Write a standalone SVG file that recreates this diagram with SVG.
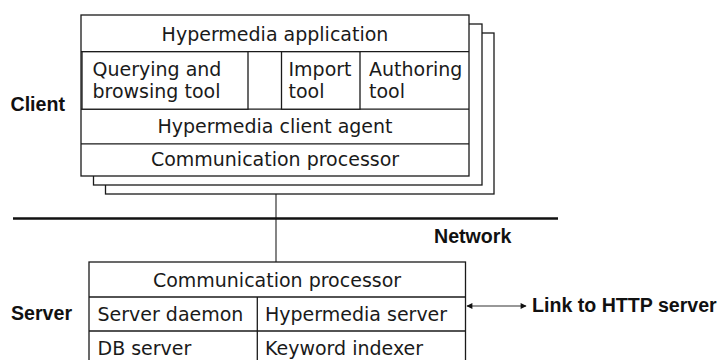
<svg xmlns="http://www.w3.org/2000/svg" width="719" height="360" viewBox="0 0 719 360">
  <style>
    .box { fill: #ffffff; stroke: #1a1a1a; stroke-width: 1.3; }
    .ln { fill: none; stroke: #1a1a1a; stroke-width: 1.3; }
    .t { font-family: "DejaVu Sans", sans-serif; font-size: 19px; fill: #1a1a1a; }
    .c { text-anchor: middle; }
    .b { font-family: "Liberation Sans", Arial, sans-serif; font-weight: bold; font-size: 19.6px; fill: #111111; }
    .conn { fill: none; stroke: #333333; stroke-width: 1.2; }
  </style>
  <defs>
    <marker id="ah" viewBox="0 0 10 10" refX="9" refY="5" markerWidth="8" markerHeight="6" markerUnits="userSpaceOnUse" orient="auto-start-reverse">
      <path d="M0,0 L10,5 L0,10 Z" fill="#111111"/>
    </marker>
  </defs>

  <g id="connectors">
    <line class="conn" x1="276" y1="176" x2="276" y2="262"/>
    <line x1="13" y1="218.5" x2="558" y2="218.5" stroke="#111111" stroke-width="2.4"/>
    <line class="conn" x1="467" y1="306" x2="526" y2="306" marker-start="url(#ah)" marker-end="url(#ah)" stroke="#111111"/>
  </g>

  <g id="client">
    <rect class="box" x="105.5" y="33" width="388.5" height="161"/>
    <rect class="box" x="93.5" y="24" width="388.5" height="161"/>
    <rect class="box" x="81" y="15" width="388" height="161"/>
    <line class="ln" x1="81" y1="51.7" x2="469" y2="51.7"/>
    <line class="ln" x1="81" y1="109.2" x2="469" y2="109.2"/>
    <line class="ln" x1="81" y1="143.8" x2="469" y2="143.8"/>
    <text class="t c" x="275" y="40.5">Hypermedia application</text>
    <text class="t c" x="275" y="132.5">Hypermedia client agent</text>
    <text class="t c" x="275" y="166">Communication processor</text>
  </g>

  <g id="querying-tool">
    <rect class="box" x="82" y="51.7" width="166" height="57.5"/>
    <text class="t" x="92.5" y="76">Querying and</text>
    <text class="t" x="92.5" y="97.5">browsing tool</text>
  </g>

  <g id="import-tool">
    <rect class="box" x="281.5" y="51.7" width="78.5" height="57.5"/>
    <text class="t" x="288.5" y="76">Import</text>
    <text class="t" x="288.5" y="97.5">tool</text>
  </g>

  <g id="authoring-tool">
    <text class="t" x="369" y="76">Authoring</text>
    <text class="t" x="369" y="97.5">tool</text>
  </g>

  <g id="server">
    <rect class="box" x="89" y="262" width="376.5" height="106"/>
    <line class="ln" x1="89" y1="297" x2="465.5" y2="297"/>
    <line class="ln" x1="89" y1="331" x2="465.5" y2="331"/>
    <line class="ln" x1="257.3" y1="297" x2="257.3" y2="368"/>
    <text class="t c" x="277" y="286.5">Communication processor</text>
    <text class="t" x="97.5" y="321">Server daemon</text>
    <text class="t" x="265" y="321">Hypermedia server</text>
    <text class="t" x="97.5" y="355">DB server</text>
    <text class="t" x="265" y="355">Keyword indexer</text>
  </g>

  <g id="labels">
    <text class="b" x="10.5" y="111">Client</text>
    <text class="b" x="11" y="320">Server</text>
    <text class="b" x="434" y="242.5">Network</text>
    <text class="b" x="532" y="312">Link to HTTP server</text>
  </g>
</svg>
